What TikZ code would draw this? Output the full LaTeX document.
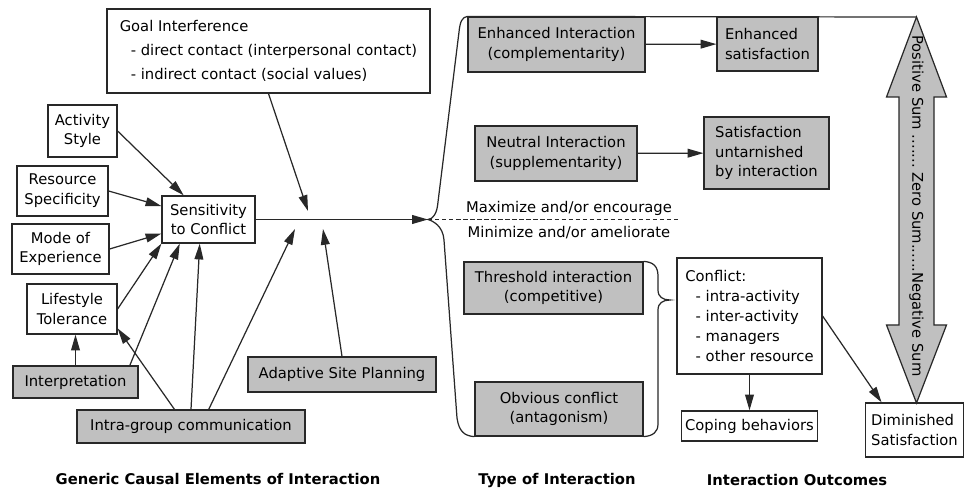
\documentclass[tikz,border=0pt]{standalone}
\usepackage{fontspec}
\setmainfont{DejaVu Sans}
\usetikzlibrary{arrows.meta}
\definecolor{boxgrey}{RGB}{192,192,192}
\definecolor{linegrey}{RGB}{40,40,40}
\begin{document}
\begin{tikzpicture}[x=0.02cm,y=-0.02cm,
  box/.style={rectangle,draw=linegrey,line width=0.7pt,inner sep=2pt,align=center,font=\fontsize{8.4}{11.3}\selectfont},
  shaded/.style={box,fill=boxgrey},
  arr/.style={-{Triangle[length=9pt,width=5pt]},line width=0.7pt,draw=linegrey},
  caption/.style={font=\fontsize{8.4}{11.3}\selectfont\bfseries}]
\useasboundingbox (0,0) rectangle (964,493);

\node[box,minimum width=6.46cm,minimum height=1.68cm,align=left] (goal) at (268.5,51)
  {Goal Interference\\[2.3pt]\hspace{0.75em}- direct contact (interpersonal contact)\\[2.3pt]\hspace{0.75em}- indirect contact (social values)};
\node[box,minimum width=1.38cm,minimum height=1.04cm] (activity) at (82.5,131) {Activity\\Style};
\node[box,minimum width=1.82cm,minimum height=1cm] (resource) at (62.5,191) {Resource\\Specificity};
\node[box,minimum width=1.94cm,minimum height=1cm] (mode) at (60.5,249) {Mode of\\Experience};
\node[box,minimum width=1.8cm,minimum height=1cm] (lifestyle) at (72,309) {Lifestyle\\Tolerance};
\node[shaded,minimum width=2.5cm,minimum height=0.64cm] (interp) at (75.5,382) {Interpretation};
\node[shaded,minimum width=4.56cm,minimum height=0.66cm] (intra) at (191,426.5) {Intra-group communication};
\node[shaded,minimum width=3.76cm,minimum height=0.7cm] (adaptive) at (342,374.5) {Adaptive Site Planning};
\node[box,minimum width=1.86cm,minimum height=0.94cm] (sens) at (208.5,219.5) {Sensitivity\\to Conflict};

\node[shaded,minimum width=3.54cm,minimum height=1.1cm] (enhint) at (556.5,44.5) {Enhanced Interaction\\(complementarity)};
\node[shaded,minimum width=2.02cm,minimum height=1.08cm,align=left] (enhsat) at (767.5,44) {Enhanced\\satisfaction};
\node[shaded,minimum width=3.24cm,minimum height=1.1cm] (neutral) at (556,153.5) {Neutral Interaction\\(supplementarity)};
\node[shaded,minimum width=2.5cm,minimum height=1.44cm,align=left] (untarn) at (766.5,153) {Satisfaction\\untarnished\\by interaction};
\node[shaded,minimum width=3.58cm,minimum height=1.04cm] (thresh) at (553.5,288) {Threshold interaction\\(competitive)};
\node[shaded,minimum width=3.36cm,minimum height=1.08cm] (obvious) at (559,409) {Obvious conflict\\(antagonism)};
\node[box,minimum width=2.9cm,minimum height=2.32cm,align=left] (conflict) at (749.5,316)
  {Conflict:\\\hspace{0.7em}- intra-activity\\\hspace{0.7em}- inter-activity\\\hspace{0.7em}- managers\\\hspace{0.7em}- other resource};
\node[box,minimum width=2.7cm,minimum height=0.6cm] (coping) at (749.5,426) {Coping behaviors};
\node[box,minimum width=1.96cm,minimum height=1.08cm,align=left] (dimin) at (914.5,430) {Diminished\\Satisfaction};

\coordinate (brtip) at (428,219.5);
\coordinate (dashend) at (680,219.5);
\coordinate (gI) at (308,211);
\coordinate (iI) at (295,229);
\coordinate (aI) at (323,229);
\coordinate (sumtop) at (916.5,17);

\filldraw[fill=boxgrey,draw=linegrey,line width=0.7pt] (sumtop) -- (946.5,97) -- (934,97) -- (934,325) -- (946.5,325)
  -- (916.5,403) -- (886.5,325) -- (899,325) -- (899,97) -- (886.5,97) -- cycle;
\node[font=\fontsize{8.4}{11.3}\selectfont,rotate=-90] (sums) at (916.5,206) {Positive Sum .......\ Zero Sum......Negative Sum};

\draw[arr] (sens.east) -- (brtip);
\draw[arr] (goal.south) -- (gI);
\draw[arr] (activity.east) -- (sens);
\draw[arr] (resource.east) -- (sens);
\draw[arr] (mode.east) -- (sens);
\draw[arr] (lifestyle.east) -- (sens.south west);
\draw[arr] (interp.north) -- (interp.north |- lifestyle.south);
\draw[arr] (interp.17) -- (sens.220);
\draw[arr] (intra.134) -- (lifestyle.-23);
\draw[arr] (intra.north) -- (sens.250);
\draw[arr] (intra.44) -- (iI);
\draw[arr] (adaptive.north) -- (aI);

\draw[linegrey,line width=0.7pt] (sumtop) -- (enhint.north west) .. controls (462,17) and (460,22) .. (459,32)
  -- (438,202) .. controls (437,214) and (433,219) .. (brtip)
  .. controls (433,221) and (443,226) .. (444,240) -- (457,418) .. controls (459,432) and (465,436) .. (obvious.south west);
\draw[linegrey,line width=0.7pt] (thresh.north east) .. controls (653,262) and (658,266) .. (658,276) -- (658,290)
  .. controls (658,297) and (663,300) .. (670,300) .. controls (663,300) and (658,303) .. (658,310)
  -- (658,424) .. controls (658,432) and (653,436) .. (obvious.south east);
\draw[linegrey,line width=0.7pt,dash pattern=on 2.5pt off 1.5pt] (brtip) -- (dashend);
\node[font=\fontsize{8.4}{11.3}\selectfont] (maxim) at (569,208) {Maximize and/or encourage};
\node[font=\fontsize{8.4}{11.3}\selectfont] (minim) at (569,233) {Minimize and/or ameliorate};

\draw[arr] (enhint) -- (enhsat);
\draw[arr] (neutral) -- (untarn);
\draw[arr] (conflict) -- (coping);
\draw[arr] (conflict.east) -- (dimin.140);

\node[caption] (capcause) at (218,479) {Generic Causal Elements of Interaction};
\node[caption] (captype) at (557,480) {Type of Interaction};
\node[caption] (capout) at (797,480) {Interaction Outcomes};
\end{tikzpicture}
\end{document}
